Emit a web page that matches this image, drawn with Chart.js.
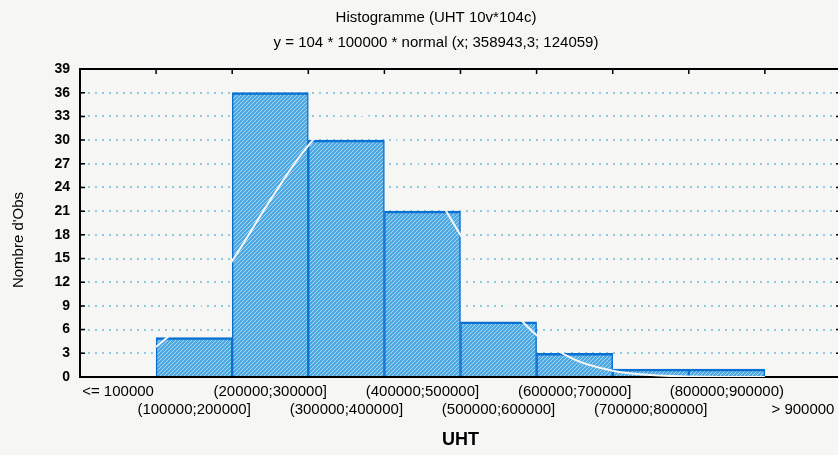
<!DOCTYPE html>
<html>
<head>
<meta charset="utf-8">
<title>Histogramme (UHT 10v*104c)</title>
<script src="https://cdn.jsdelivr.net/npm/chart.js@4.4.1/dist/chart.umd.min.js"></script>
<style>
  html, body { margin: 0; padding: 0; overflow: hidden; background: #f6f6f4; }
  #wrap { width: 872px; height: 455px; }
</style>
</head>
<body>
<div id="wrap"><canvas id="histo" width="872" height="455"></canvas></div>
<script>
// classes de UHT (pas de 100000)
const binLabels = [
  "<= 100000", "(100000;200000]", "(200000;300000]", "(300000;400000]", "(400000;500000]",
  "(500000;600000]", "(600000;700000]", "(700000;800000]", "(800000;900000)", "> 900000"
];
const counts = [0, 5, 36, 30, 21, 7, 3, 1, 1, 0];
const binWidth = 100000;

// courbe normale ajustée
const curveX = [100000, 150000, 200000, 250000, 300000, 350000, 400000, 450000, 500000,
                550000, 600000, 650000, 700000, 750000, 800000, 850000, 900000];
const curveY = [3.8, 8.1, 14.7, 22.4, 29.3, 33.4, 31.8, 25.9, 18.0,
                10.6, 5.3, 2.2, 0.8, 0.25, 0.06, 0.01, 0];

const yMax = 39;
const yStep = 3;

const titleLines = ["Histogramme (UHT 10v*104c)", "y = 104 * 100000 * normal (x; 358943,3; 124059)"];
const xTitle = "UHT";
const yTitle = "Nombre d'Obs";

const FONT = "'Liberation Sans', Arial, sans-serif";
const PAPER = "#f6f6f4";
Chart.defaults.font.family = FONT;
Chart.defaults.color = "#000";

function hatch() {
  const c = document.createElement("canvas");
  c.width = 4; c.height = 4;
  const g = c.getContext("2d");
  g.fillStyle = "#4fa9e3";
  g.fillRect(0, 0, 4, 4);
  g.fillStyle = "#a6d6f4";
  for (let i = 0; i < 4; i++) g.fillRect(3 - i, i, 1, 1);
  return g.createPattern(c, "repeat");
}

const paper = {
  id: "paper",
  beforeDraw(chart) {
    const { ctx, width, height } = chart;
    ctx.save();
    ctx.fillStyle = PAPER;
    ctx.fillRect(0, 0, width, height);
    ctx.restore();
  }
};

// cadre haut/droite, graduations intérieures et titre vertical
const frame = {
  id: "frame",
  afterDatasetsDraw(chart) {
    const { ctx, chartArea: a, scales } = chart;
    const xs = scales.xLin, ys = scales.y;
    ctx.save();
    ctx.strokeStyle = "#000";
    ctx.lineWidth = 2;
    ctx.beginPath();
    ctx.moveTo(a.left, a.top);
    ctx.lineTo(a.right, a.top);
    ctx.lineTo(a.right, a.bottom);
    ctx.stroke();

    ctx.lineWidth = 1.5;
    ctx.beginPath();
    for (let k = 1; k < binLabels.length; k++) {
      const px = xs.getPixelForValue(k * binWidth);
      ctx.moveTo(px, a.top);
      ctx.lineTo(px, a.top + 5);
    }
    ys.ticks.forEach(t => {
      const py = ys.getPixelForValue(t.value);
      ctx.moveTo(a.left, py); ctx.lineTo(a.left + 5, py);
      ctx.moveTo(a.right, py); ctx.lineTo(a.right - 5, py);
    });
    ctx.stroke();

    ctx.translate(19, (a.top + a.bottom) / 2 + 17);
    ctx.rotate(-Math.PI / 2);
    ctx.font = "15px " + FONT;
    ctx.fillStyle = "#000";
    ctx.textAlign = "center";
    ctx.textBaseline = "middle";
    ctx.fillText(yTitle, 0, 0);
    ctx.restore();
  }
};

const ctx = document.getElementById("histo").getContext("2d");

new Chart(ctx, {
  type: "bar",
  data: {
    labels: binLabels,
    datasets: [
      {
        type: "line",
        label: "normal",
        data: curveX.map((x, i) => ({ x: x, y: curveY[i] })),
        xAxisID: "xLin",
        yAxisID: "y",
        borderColor: PAPER,
        borderWidth: 2,
        pointRadius: 0,
        cubicInterpolationMode: "monotone",
        order: 0
      },
      {
        type: "bar",
        label: "UHT",
        data: counts,
        xAxisID: "x",
        yAxisID: "y",
        backgroundColor: hatch(),
        borderColor: "#0a70d2",
        borderWidth: { top: 2.5, left: 1.5, right: 1.5, bottom: 0 },
        borderSkipped: false,
        grouped: false,
        categoryPercentage: 1,
        barPercentage: 1,
        order: 1
      }
    ]
  },
  options: {
    responsive: false,
    animation: false,
    devicePixelRatio: 1,
    layout: { padding: { left: 31, right: 31, top: 0, bottom: 0 } },
    plugins: {
      legend: { display: false },
      tooltip: { enabled: false },
      title: {
        display: true,
        text: titleLines,
        color: "#000",
        font: { size: 15, weight: "normal", lineHeight: 25 / 15 },
        padding: { top: 5.5, bottom: 13.5 }
      }
    },
    scales: {
      x: {
        type: "category",
        offset: true,
        grid: { display: false, drawTicks: false },
        border: { display: true, color: "#000", width: 2 },
        ticks: {
          autoSkip: false,
          maxRotation: 0,
          minRotation: 0,
          padding: 6,
          color: "#000",
          font: { size: 15 },
          callback: (v, i) => (i % 2 === 0 ? [binLabels[i], ""] : ["", binLabels[i]])
        },
        title: {
          display: true,
          text: xTitle,
          color: "#000",
          font: { size: 18, weight: "bold" },
          padding: { top: 0, bottom: 4 }
        },
        afterFit: s => { s.height = 78; }
      },
      xLin: {
        type: "linear",
        display: false,
        offset: false,
        grid: { offset: false },
        min: 0,
        max: binLabels.length * binWidth
      },
      y: {
        min: 0,
        max: yMax,
        grid: {
          drawTicks: false,
          lineWidth: 2,
          color: c => (c.tick && (c.tick.value === 0 || c.tick.value === yMax) ? "rgba(0,0,0,0)" : "#8ccbe2")
        },
        border: { display: true, color: "#000", width: 2, dash: [2, 5] },
        ticks: {
          stepSize: yStep,
          padding: 10,
          color: "#000",
          font: { size: 14, weight: "bold" }
        },
        afterFit: s => { s.width = 49; }
      }
    }
  },
  plugins: [paper, frame]
});
</script>
</body>
</html>
